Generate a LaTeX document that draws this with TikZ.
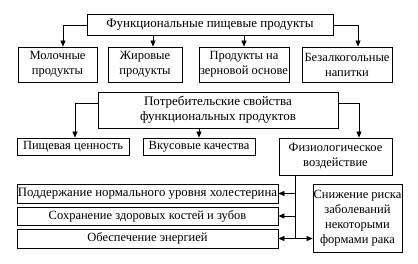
\documentclass[tikz,border=0pt]{standalone}
\usepackage{fontspec}
\setmainfont{Liberation Serif}
\usetikzlibrary{arrows.meta,calc}
\begin{document}
\begin{tikzpicture}[x=1pt,y=-1pt,
  box/.style={draw,line width=0.75pt,inner sep=0pt,align=center,font=\fontsize{12.5}{15}\selectfont},
  arr/.style={line width=0.75pt,-{Triangle[length=6pt,width=5pt]}},
  ln/.style={line width=0.75pt}]
\useasboundingbox (0,0) rectangle (418,264);
\node[box,minimum width=246,minimum height=21,font=\fontsize{13}{15}\selectfont] (top) at (210,25) {Функциональные пищевые продукты};
\node[box,minimum width=79,minimum height=35] (b1) at (57.5,64.5) {Молочные\\продукты};
\node[box,minimum width=74,minimum height=35] (b2) at (145,64.5) {Жировые\\продукты};
\node[box,minimum width=90,minimum height=35] (b3) at (244,64.5) {Продукты на\\зерновой основе};
\node[box,minimum width=90,minimum height=35] (b4) at (347,64.5) {Безалкогольные\\напитки};
\draw[arr] (top.west) -| ([xshift=5.5pt]b1.north);
\draw[arr] (top.south -| b2.north) ++(8,0) -- ([xshift=8pt]b2.north);
\draw[arr] (top.south -| b3.north) -- (b3.north);
\draw[arr] (top.east) -| ([xshift=11pt]b4.north);

\node[box,minimum width=240,minimum height=36,font=\fontsize{13}{15.5}\selectfont] (cons) at (218,110) {Потребительские свойства\\функциональных продуктов};
\node[box,minimum width=112,minimum height=17] (c1) at (73,146.5) {Пищевая ценность};
\node[box,minimum width=112,minimum height=17] (c2) at (199,146.5) {Вкусовые качества};
\node[box,minimum width=113,minimum height=37] (c3) at (335.5,156.5) {Физиологическое\\воздействие};
\draw[arr] ([yshift=7pt]cons.west) -| ([xshift=2pt]c1.north);
\draw[arr] (cons.south -| c2.north) -- (c2.north);
\draw[arr] ([yshift=7pt]cons.east) -| ([xshift=23.5pt]c3.north);

\node[box,minimum width=261,minimum height=19,font=\fontsize{12.8}{15}\selectfont] (d1) at (147.5,193.5) {Поддержание нормального уровня холестерина};
\node[box,minimum width=261,minimum height=18] (d2) at (147.5,216) {Сохранение здоровых костей и зубов};
\node[box,minimum width=261,minimum height=19] (d3) at (147.5,238.5) {Обеспечение энергией};
\node[box,minimum width=89,minimum height=68] (e) at (357.5,218) {Снижение риска\\заболеваний\\некоторыми\\формами рака};
\coordinate (vtop) at ([xshift=-40.5pt]c3.south);
\coordinate (vbot) at (vtop |- d3.east);
\draw[ln] (vtop) -- (vbot);
\draw[arr] (vtop |- d1.east) -- (d1.east);
\draw[arr] (vtop |- d2.east) -- (d2.east);
\draw[arr] (vbot) -- (d3.east);
\draw[arr] (vbot) -- (vbot -| e.west);
\end{tikzpicture}
\end{document}
